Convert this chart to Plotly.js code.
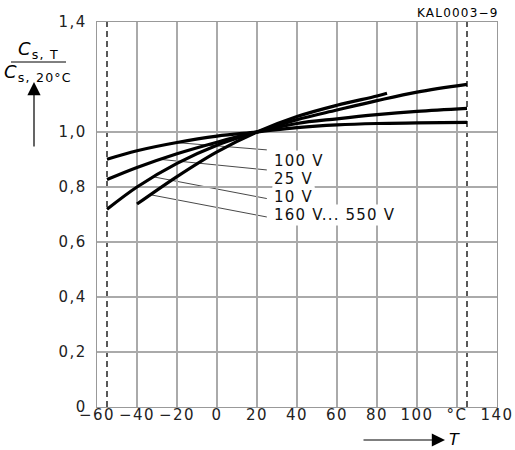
<!DOCTYPE html>
<html>
<head>
<meta charset="utf-8">
<script src="https://cdn.plot.ly/plotly-3.0.1.min.js"></script>
<style>
html,body{margin:0;padding:0;background:#fff;}
#chart{width:515px;height:450px;}
.xtick text,.ytick text{letter-spacing:1.5px;}
.annotation-text{letter-spacing:1.2px;}
</style>
</head>
<body>
<div id="chart"></div>
<script>
// Temperature (°C) sample points
const tempFull = [-55, -40, -20, 0, 20, 40, 60, 80, 100, 125];
const tempHigh = [-40, -20, 0, 20, 40, 60, 80, 85];
// Cs,T / Cs,20°C
const cap100V = [0.901, 0.932, 0.962, 0.985, 1.0, 1.016, 1.026, 1.031, 1.033, 1.035];
const cap25V  = [0.827, 0.871, 0.921, 0.963, 1.0, 1.031, 1.048, 1.063, 1.075, 1.086];
const cap10V  = [0.719, 0.800, 0.886, 0.952, 1.0, 1.045, 1.080, 1.114, 1.145, 1.173];
const cap160V = [0.738, 0.838, 0.928, 1.0, 1.056, 1.097, 1.131, 1.141];
const seriesNames = ["100 V", "25 V", "10 V", "160 V... 550 V"];
// label positions and leader lines
const labelT = [27.5, 27.5, 27.5, 27.5];
const labelC = [0.895, 0.829, 0.762, 0.697];
const leaderFromT = [-19.4, -27.7, -31.8, -32.7];
const leaderFromC = [0.961, 0.900, 0.837, 0.771];
const leaderToT = [24.9, 24.9, 24.9, 24.9];
const leaderToC = [0.935, 0.862, 0.758, 0.691];
const xTickVals = [-60, -40, -20, 0, 20, 40, 60, 80, 100, 120, 140];
const xTickText = ["\u221260", "\u221240", "\u221220", "0", "20", "40", "60", "80", "100", "\u00B0C", "140"];
const yTickVals = [0, 0.2, 0.4, 0.6, 0.8, 1.0, 1.4];
const yTickText = ["0", "0,2", "0,4", "0,6", "0,8", "1,0", "1,4"];
const limitTemps = [-55, 125];
const darkGridT = [-40, 0];
const darkGridC = [0.8];

const FONT = "DejaVu Sans, Liberation Sans, Arial, sans-serif";
const lineStyle = {color: "#000", width: 3.2, shape: "spline", smoothing: 1};

const traces = [
  {x: tempFull, y: cap100V, name: seriesNames[0]},
  {x: tempFull, y: cap25V, name: seriesNames[1]},
  {x: tempFull, y: cap10V, name: seriesNames[2]},
  {x: tempHigh, y: cap160V, name: seriesNames[3]}
].map(t => Object.assign(t, {type: "scatter", mode: "lines", line: lineStyle, hoverinfo: "skip"}));

const shapes = [];
darkGridT.forEach(v => shapes.push({type: "line", xref: "x", yref: "y", x0: v, x1: v, y0: 0, y1: 1.4, line: {color: "#000", width: 1.2}, layer: "below"}));
darkGridC.forEach(v => shapes.push({type: "line", xref: "x", yref: "y", x0: -60, x1: 140, y0: v, y1: v, line: {color: "#000", width: 1.2}, layer: "below"}));
limitTemps.forEach(v => shapes.push({type: "line", xref: "x", yref: "y", x0: v, x1: v, y0: 0, y1: 1.4, line: {color: "#000", width: 1.3, dash: "6px,4px"}, layer: "below"}));
for (let i = 0; i < 4; i++) {
  shapes.push({type: "line", xref: "x", yref: "y", x0: leaderFromT[i], y0: leaderFromC[i], x1: leaderToT[i], y1: leaderToC[i], line: {color: "#333", width: 0.9}, layer: "below"});
}
// fraction bar for y title (paper coords)
const W = 400, H = 385, L = 97, T = 22;
const px = (xp) => (xp - L) / W;
const py = (yp) => 1 - (yp - T) / H;
shapes.push({type: "line", xref: "paper", yref: "paper", x0: px(11), x1: px(66), y0: py(62), y1: py(62), line: {color: "#000", width: 1}});

const annotations = [];
for (let i = 0; i < 4; i++) {
  annotations.push({x: labelT[i], y: labelC[i], xref: "x", yref: "y", text: seriesNames[i], showarrow: false,
    xanchor: "left", yanchor: "middle", bgcolor: "#fff", borderpad: 1, font: {family: FONT, size: 15, color: "#111"}});
}
annotations.push({xref: "paper", yref: "paper", x: px(38), y: py(50), text: "<i>C</i><sub>s, T</sub>", showarrow: false, xanchor: "center", yanchor: "middle", font: {family: FONT, size: 18, color: "#000"}});
annotations.push({xref: "paper", yref: "paper", x: px(38), y: py(73), text: "<i>C</i><sub>s, 20\u00B0C</sub>", showarrow: false, xanchor: "center", yanchor: "middle", font: {family: FONT, size: 18, color: "#000"}});
annotations.push({xref: "paper", yref: "paper", x: px(34), y: py(82), ax: 0, ay: 66, text: "", showarrow: true, arrowhead: 2, arrowsize: 2.2, arrowwidth: 1.2, arrowcolor: "#000", axref: "pixel", ayref: "pixel"});
annotations.push({xref: "paper", yref: "paper", x: px(445), y: py(440), ax: -83, ay: 0, text: "", showarrow: true, arrowhead: 2, arrowsize: 2.2, arrowwidth: 1.2, arrowcolor: "#000", axref: "pixel", ayref: "pixel"});
annotations.push({xref: "paper", yref: "paper", x: px(447), y: py(439), text: "<i>T</i>", showarrow: false, xanchor: "left", yanchor: "middle", font: {family: FONT, size: 16, color: "#000"}});
annotations.push({xref: "paper", yref: "paper", x: px(501), y: py(13), text: "KAL0003\u22129", showarrow: false, xanchor: "right", yanchor: "middle", font: {family: FONT, size: 12, color: "#000"}});

const layout = {
  width: 515, height: 450,
  margin: {l: L, r: 515 - L - W, t: T, b: 450 - T - H},
  paper_bgcolor: "#fff", plot_bgcolor: "#fff",
  showlegend: false,
  font: {family: FONT, size: 15, color: "#000"},
  xaxis: {range: [-60, 140], tickvals: xTickVals, ticktext: xTickText, showgrid: true, gridcolor: "#aaa", gridwidth: 1.2,
    zeroline: false, showline: true, linecolor: "#999", linewidth: 1.2, mirror: true, ticks: "", ticklabelstandoff: -6,
    tickfont: {family: FONT, size: 15, color: "#222"}},
  yaxis: {range: [0, 1.4], tickvals: yTickVals, ticktext: yTickText, showgrid: true, gridcolor: "#aaa", gridwidth: 1.2,
    zeroline: false, showline: true, linecolor: "#999", linewidth: 1.2, mirror: true, ticks: "", ticklabelstandoff: 6,
    tickfont: {family: FONT, size: 15, color: "#222"}},
  shapes: shapes,
  annotations: annotations
};

Plotly.newPlot("chart", traces, layout, {displayModeBar: false, staticPlot: true});
</script>
</body>
</html>
